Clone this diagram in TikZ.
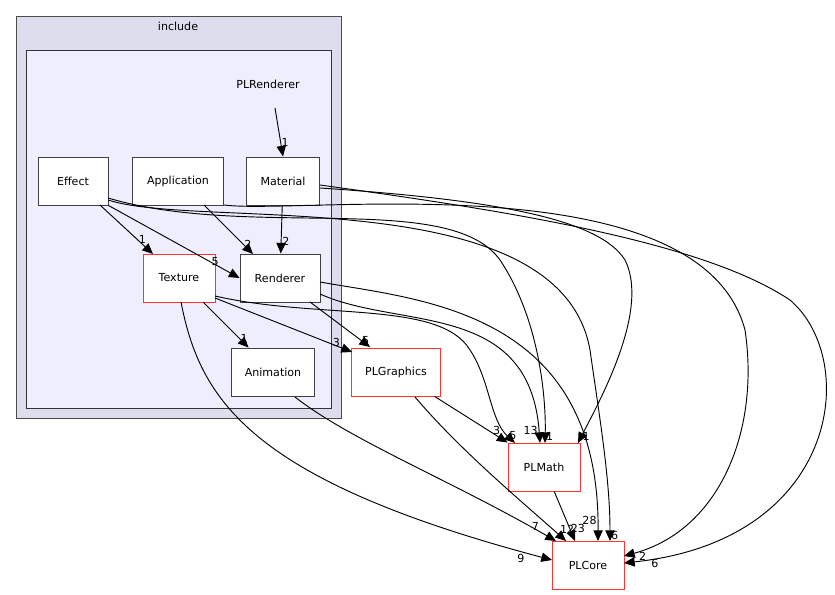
\documentclass[tikz,border=0pt]{standalone}
\usepackage{fontspec}
\setmainfont{DejaVu Sans}
\usetikzlibrary{arrows.meta}
\definecolor{outerc}{HTML}{DDDDEE}
\definecolor{innerc}{HTML}{EEEEFF}
\begin{document}
\begin{tikzpicture}[x=0.75pt,y=-0.75pt,
  box/.style={draw=black!75,fill=white,minimum width=#1*0.75pt,minimum height=36pt,font=\fontsize{8.3}{10}\selectfont,line width=0.7pt},
  rbox/.style={box=#1,draw=red!80},
  e/.style={-{Triangle[length=8pt,width=7pt]},line width=0.7pt},
  lb/.style={font=\fontsize{8.3}{10}\selectfont,inner sep=0.5pt}]
\useasboundingbox (0,0) rectangle (835,595);
\filldraw[draw=black!70,fill=outerc,line width=0.7pt] (16,16) rectangle (341,418);
\node[font=\fontsize{8.3}{10}\selectfont] (inc) at (178,26) {include};
\filldraw[draw=black!80,fill=innerc,line width=0.7pt] (26,50) rectangle (331,408);
\node[font=\fontsize{8.3}{10}\selectfont] (plr) at (268,84) {PLRenderer};
\coordinate (src) at (275,108);
\node[box=70] (eff) at (73,181) {Effect};
\node[box=91] (app) at (178,181) {Application};
\node[box=73] (mat) at (283,181) {Material};
\node[rbox=72] (tex) at (179,278) {Texture};
\node[box=80] (ren) at (280,278) {Renderer};
\node[box=83] (ani) at (273,372) {Animation};
\node[rbox=89] (gra) at (396,372) {PLGraphics};
\node[rbox=72] (mth) at (544,467) {PLMath};
\node[rbox=72] (cor) at (588,565) {PLCore};

\draw[e] (src) -- (mat.north) node[lb,pos=0.7,right] {1};
\draw[e] (mat) -- (ren) node[lb,pos=0.75,right] {2};
\draw[e] (204,205) -- (253,254) node[lb,pos=0.8,right] {2};
\draw[e] (eff.south east) -- (ren.west) node[lb,pos=0.85,above left] {5};
\draw[e] (100,205) -- (153,254) node[lb,pos=0.8,above] {1};
\draw[e] (108,198) .. controls (250,240) and (450,190) .. (500,260) .. controls (540,320) and (546,400) .. (545,443) node[lb,pos=0.95,right] {1};
\draw[e] (108,200) .. controls (200,230) and (560,180) .. (590,350) .. controls (600,420) and (610,480) .. (610,541) node[lb,pos=0.97,right] {6};
\draw[e] (224,205) .. controls (300,215) and (700,160) .. (745,330) .. controls (760,430) and (720,530) .. (624,556) node[lb,pos=0.95,below right] {2};
\draw[e] (320,185) .. controls (500,210) and (700,240) .. (790,300) .. controls (860,360) and (840,540) .. (624,563) node[lb,pos=0.95,below] {6};
\draw[e] (320,188) .. controls (500,200) and (600,220) .. (625,260) .. controls (650,310) and (600,400) .. (578,443) node[lb,pos=0.95,right] {1};
\draw[e] (320,294) .. controls (400,330) and (530,300) .. (540,443) node[lb,pos=0.97,left] {13};
\draw[e] (320,282) .. controls (420,300) and (600,310) .. (598,541) node[lb,pos=0.97,left] {28};
\draw[e] (215,296) .. controls (320,320) and (440,300) .. (470,350) .. controls (490,380) and (490,420) .. (515,443) node[lb,pos=0.9,right] {5};
\draw[e] (215,298) -- (352,352) node[lb,pos=0.92,above left] {3};
\draw[e] (310,302) -- (370,347) node[lb,pos=0.85,right] {5};
\draw[e] (181,302) .. controls (200,400) and (250,480) .. (552,560) node[lb,pos=0.97,below left] {9};
\draw[e] (tex) -- (ani) node[lb,pos=0.8,right] {1};
\draw[e] (295,397) .. controls (350,440) and (450,480) .. (556,541) node[lb,pos=0.95,above left] {7};
\draw[e] (415,397) .. controls (460,450) and (520,500) .. (566,541) node[lb,pos=0.95,above right] {12};
\draw[e] (gra) -- (mth.north west) node[lb,pos=0.85,above] {3};
\draw[e] (mth) -- (575,541) node[lb,pos=0.75,right] {23};
\end{tikzpicture}
\end{document}
